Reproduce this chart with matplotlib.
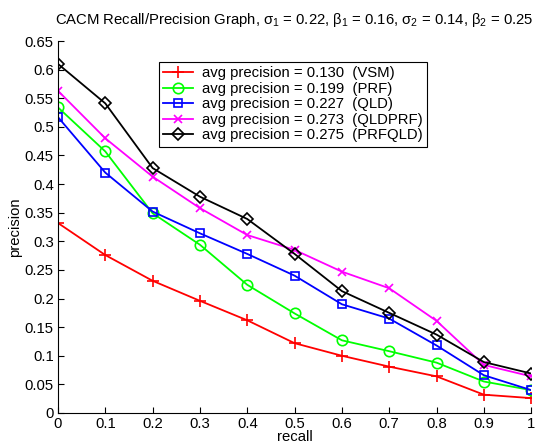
import numpy as np
import matplotlib.pyplot as plt

plt.rcParams['font.family'] = ['Liberation Sans', 'DejaVu Sans']
plt.rcParams['mathtext.fontset'] = 'custom'
plt.rcParams['mathtext.rm'] = 'Liberation Sans'
plt.rcParams['mathtext.it'] = 'Liberation Sans'

# recall levels
recall = [0, 0.1, 0.2, 0.3, 0.4, 0.5, 0.6, 0.7, 0.8, 0.9, 1.0]

# precision values
vsm = [0.332, 0.276, 0.231, 0.196, 0.162, 0.122, 0.100, 0.081, 0.064, 0.032, 0.026]
prf = [0.534, 0.457, 0.349, 0.294, 0.224, 0.174, 0.127, 0.108, 0.088, 0.055, 0.040]
qld = [0.517, 0.420, 0.352, 0.314, 0.278, 0.240, 0.190, 0.165, 0.118, 0.066, 0.040]
qldprf = [0.563, 0.480, 0.413, 0.358, 0.311, 0.285, 0.247, 0.218, 0.161, 0.084, 0.064]
prfqld = [0.610, 0.541, 0.428, 0.378, 0.339, 0.278, 0.213, 0.175, 0.137, 0.089, 0.069]

labels = ['avg precision = 0.130  (VSM)',
          'avg precision = 0.199  (PRF)',
          'avg precision = 0.227  (QLD)',
          'avg precision = 0.273  (QLDPRF)',
          'avg precision = 0.275  (PRFQLD)']

fs = 10.7

fig = plt.figure(figsize=(5.42, 4.46), dpi=100)
ax = fig.add_axes([0.107, 0.074, 0.873, 0.834])

lw = 1.3
ax.plot(recall, vsm, '-', color='red', marker='+', ms=9, mew=1.2, lw=lw, label=labels[0])
ax.plot(recall, prf, '-', color=(0, 1, 0), marker='o', ms=7.5, mfc='none', mew=1.2, lw=lw, label=labels[1])
ax.plot(recall, qld, '-', color='blue', marker='s', ms=6.3, mfc='none', mew=1.2, lw=lw, label=labels[2])
ax.plot(recall, qldprf, '-', color='magenta', marker='x', ms=5.5, mew=1.2, lw=lw, label=labels[3])
ax.plot(recall, prfqld, '-', color='black', marker='D', ms=6.3, mfc='none', mew=1.2, lw=lw, label=labels[4])

ax.set_xlim(0, 1)
ax.set_ylim(0, 0.65)
ax.set_xticks(recall)
ax.set_xticklabels(['0', '0.1', '0.2', '0.3', '0.4', '0.5', '0.6', '0.7', '0.8', '0.9', '1'])
yt = np.arange(0, 0.651, 0.05)
ax.set_yticks(yt)
ax.set_yticklabels(['0'] + ['%g' % v for v in yt[1:]])
ax.tick_params(direction='in', labelsize=fs, length=4, pad=3)
ax.spines['top'].set_visible(False)
ax.spines['right'].set_visible(False)

ax.set_xlabel('recall', fontsize=fs, labelpad=-1)
ax.set_ylabel('precision', fontsize=fs, labelpad=2)
ax.set_title(r'CACM Recall/Precision Graph, $\sigma_1$ = 0.22, $\beta_1$ = 0.16, '
             r'$\sigma_2$ = 0.14, $\beta_2$ = 0.25', fontsize=fs, pad=12)

leg = ax.legend(loc='upper right', bbox_to_anchor=(0.78, 0.944), fontsize=fs,
                fancybox=False, framealpha=1, edgecolor='black', borderaxespad=0,
                borderpad=0.3, labelspacing=0.1, handlelength=2.0, handletextpad=0.6)
leg.get_frame().set_linewidth(0.8)

fig.savefig('out.png', dpi=100)
